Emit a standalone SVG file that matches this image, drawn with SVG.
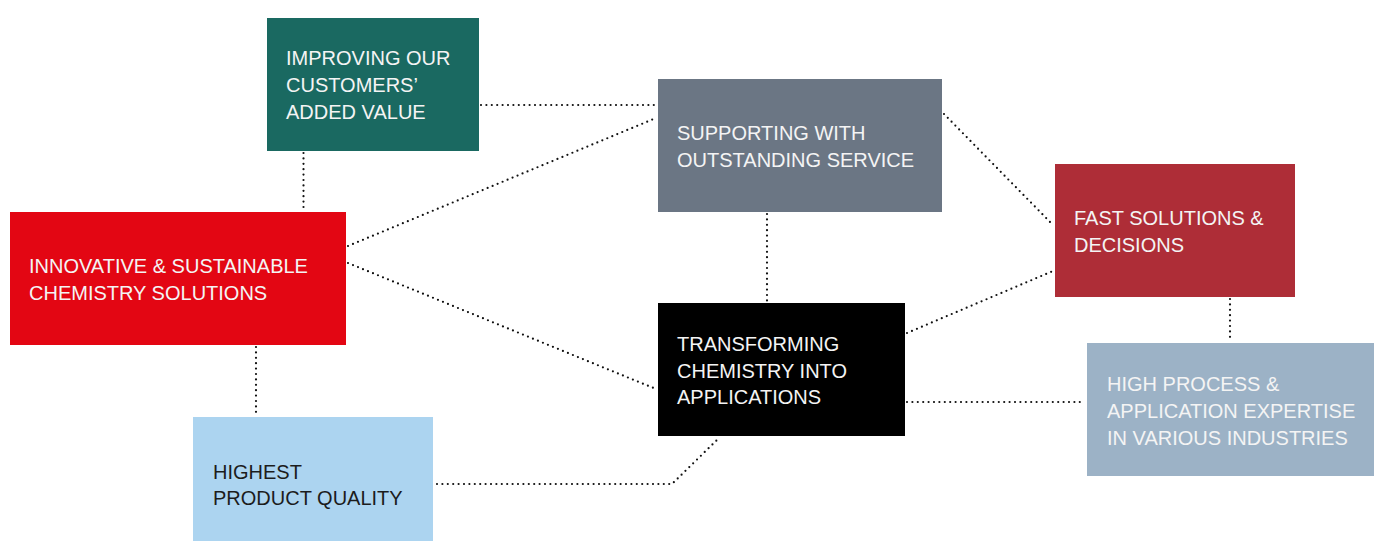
<svg xmlns="http://www.w3.org/2000/svg" width="1374" height="541" viewBox="0 0 1374 541">
<style>
.t{font-family:"Liberation Sans",Arial,sans-serif;font-size:20px;fill:#f4f4f4}
.d{fill:#1c1c1c}
.c{fill:none;stroke:#111;stroke-width:2.2;stroke-linecap:round;stroke-dasharray:0 5.4}
</style>
<rect width="1374" height="541" fill="#fff"/>
<g id="connectors">
<path class="c" d="M481 105H656"/>
<path class="c" d="M303.5 153V211"/>
<path class="c" d="M348 246L656 118"/>
<path class="c" d="M348 263L656 389"/>
<path class="c" d="M256 347V415"/>
<path class="c" d="M767 214V301"/>
<path class="c" d="M944 114L1053 225"/>
<path class="c" d="M907 333L1053 271"/>
<path class="c" d="M907 402H1085"/>
<path class="c" d="M1230 299V341"/>
<path class="c" d="M437 484H672L719 438"/>
</g>
<g id="n-customers">
<rect x="267" y="18" width="212" height="133" fill="#1a6961"/>
<text class="t"><tspan x="286" y="65">IMPROVING OUR</tspan><tspan x="286" y="92">CUSTOMERS’</tspan><tspan x="286" y="119">ADDED VALUE</tspan></text>
</g>
<g id="n-service">
<rect x="658" y="79" width="284" height="133" fill="#6b7684"/>
<text class="t"><tspan x="677" y="140">SUPPORTING WITH</tspan><tspan x="677" y="167">OUTSTANDING SERVICE</tspan></text>
</g>
<g id="n-innovative">
<rect x="10" y="212" width="336" height="133" fill="#e30613"/>
<text class="t"><tspan x="29" y="273">INNOVATIVE &amp; SUSTAINABLE</tspan><tspan x="29" y="300">CHEMISTRY SOLUTIONS</tspan></text>
</g>
<g id="n-fast">
<rect x="1055" y="164" width="240" height="133" fill="#ae2d37"/>
<text class="t"><tspan x="1074" y="225">FAST SOLUTIONS &amp;</tspan><tspan x="1074" y="252">DECISIONS</tspan></text>
</g>
<g id="n-transforming">
<rect x="658" y="303" width="247" height="133" fill="#000"/>
<text class="t"><tspan x="677" y="351">TRANSFORMING</tspan><tspan x="677" y="378">CHEMISTRY INTO</tspan><tspan x="677" y="404">APPLICATIONS</tspan></text>
</g>
<g id="n-expertise">
<rect x="1087" y="343" width="287" height="133" fill="#9cb2c6"/>
<text class="t"><tspan x="1107" y="391">HIGH PROCESS &amp;</tspan><tspan x="1107" y="418">APPLICATION EXPERTISE</tspan><tspan x="1107" y="445">IN VARIOUS INDUSTRIES</tspan></text>
</g>
<g id="n-quality">
<rect x="193" y="417" width="240" height="124" fill="#acd4f0"/>
<text class="t d"><tspan x="213" y="479">HIGHEST</tspan><tspan x="213" y="505">PRODUCT QUALITY</tspan></text>
</g>
</svg>
